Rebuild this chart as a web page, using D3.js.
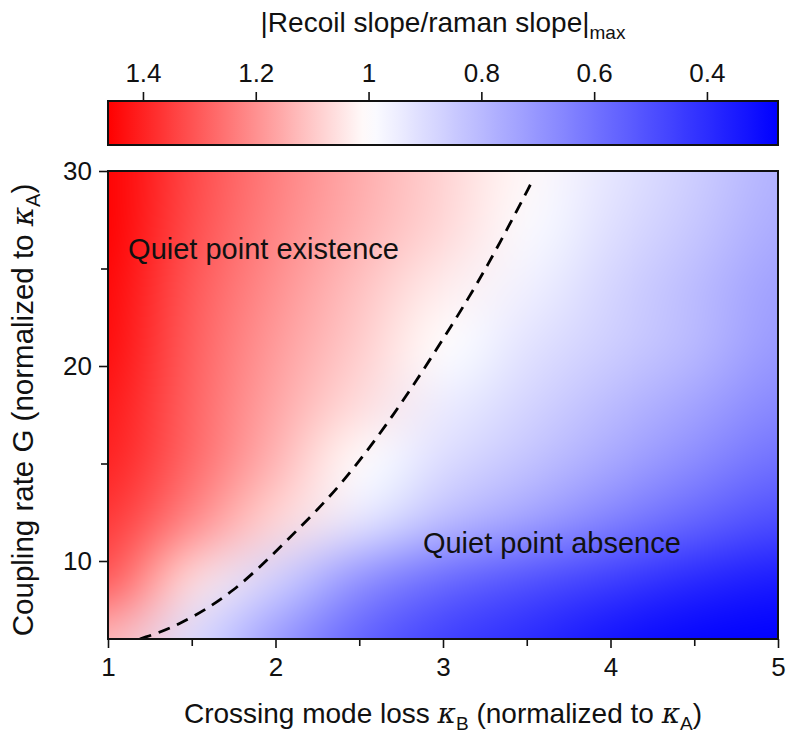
<!DOCTYPE html>
<html><head><meta charset="utf-8">
<script src="https://cdn.jsdelivr.net/npm/d3@7/dist/d3.min.js"></script>
<style>
body{margin:0;background:#fff}
svg{display:block}
text{font-family:"Liberation Sans",Arial,Helvetica,sans-serif;fill:#111}
</style>
</head><body>
<svg id="chart" width="788" height="740"></svg>
<script>
// ---- data ----
const kappaB = [1, 1.5, 2, 2.5, 3, 3.5, 4, 4.5, 5];
const couplingG = [6, 9, 12, 15, 18, 21, 24, 27, 30];
// |Recoil slope / raman slope|max, one row per coupling G (bottom to top)
const ratioG6  = [1.13, 0.90, 0.72, 0.56, 0.46, 0.40, 0.33, 0.29, 0.27];
const ratioG9  = [1.30, 1.06, 0.87, 0.69, 0.58, 0.51, 0.45, 0.39, 0.35];
const ratioG12 = [1.36, 1.21, 1.07, 0.93, 0.81, 0.73, 0.64, 0.56, 0.49];
const ratioG15 = [1.40, 1.27, 1.13, 1.00, 0.90, 0.83, 0.75, 0.67, 0.59];
const ratioG18 = [1.42, 1.28, 1.16, 1.06, 0.95, 0.88, 0.81, 0.74, 0.66];
const ratioG21 = [1.44, 1.29, 1.18, 1.09, 1.00, 0.92, 0.86, 0.80, 0.71];
const ratioG24 = [1.45, 1.30, 1.20, 1.11, 1.03, 0.96, 0.88, 0.81, 0.73];
const ratioG27 = [1.46, 1.32, 1.22, 1.14, 1.07, 0.99, 0.91, 0.84, 0.76];
const ratioG30 = [1.46, 1.33, 1.23, 1.15, 1.08, 1.01, 0.93, 0.86, 0.78];
const ratioRows = [ratioG6, ratioG9, ratioG12, ratioG15, ratioG18, ratioG21, ratioG24, ratioG27, ratioG30];
// dashed boundary (ratio = 1)
const boundaryKappa = [1.19, 1.41, 1.75, 2.07, 2.39, 2.72, 2.91, 3.16, 3.34, 3.54];
const boundaryG     = [6.0, 6.63, 8.34, 11.08, 13.8, 17.66, 20.15, 23.55, 26.3, 29.6];
const xTickValues = [1, 2, 3, 4, 5];
const xMinorTicks = [1.5, 2.5, 3.5, 4.5];
const yTickValues = [10, 20, 30];
const yMinorTicks = [15, 25];
const colorbarTicks = [1.4, 1.2, 1, 0.8, 0.6, 0.4];
const colorDomain = [1.462, 1, 0.274];
const colorRange = ["#ff0000", "#ffffff", "#0000ff"];

// ---- layout ----
const svg = d3.select("#chart");
const L = 108, R = 778, T = 171, B = 639;
const FONT = '"Liberation Sans", Arial, sans-serif';
const x = d3.scaleLinear().domain([1, 5]).range([L, R]);
const y = d3.scaleLinear().domain([6, 30]).range([B, T]);
const color = d3.scaleLinear().domain(colorDomain).range(colorRange).clamp(true);
const cb = d3.scaleLinear().domain([colorDomain[0], colorDomain[2]]).range([L, R]);
const cbTop = 101, cbBot = 145;

// ---- heatmap: one pixel per grid cell, upscaled smoothly for display ----
const nx = kappaB.length, ny = couplingG.length;
const cvs = document.createElement("canvas");
cvs.width = nx; cvs.height = ny;
const ctx = cvs.getContext("2d");
const img = ctx.createImageData(nx, ny);
ratioRows.forEach((row, j) => {
  row.forEach((v, i) => {
    const c = d3.rgb(color(v));
    const k = ((ny - 1 - j) * nx + i) * 4;
    img.data[k] = c.r; img.data[k+1] = c.g; img.data[k+2] = c.b; img.data[k+3] = 255;
  });
});
ctx.putImageData(img, 0, 0);
const dx = (kappaB[1] - kappaB[0]) / 2, dy = (couplingG[1] - couplingG[0]) / 2;
const ix0 = x(kappaB[0] - dx), ix1 = x(kappaB[nx - 1] + dx);
const iy0 = y(couplingG[ny - 1] + dy), iy1 = y(couplingG[0] - dy);
const W = Math.round(ix1 - ix0), H = Math.round(iy1 - iy0);
const big = document.createElement("canvas");
big.width = W; big.height = H;
const bctx = big.getContext("2d");
bctx.imageSmoothingEnabled = true;
bctx.imageSmoothingQuality = "high";
bctx.filter = "blur(9px)";
bctx.drawImage(cvs, 0, 0, W, H);

const defs = svg.append("defs");
defs.append("clipPath").attr("id", "plotclip").append("rect")
  .attr("x", L).attr("y", T).attr("width", R - L).attr("height", B - T);

svg.append("g").attr("clip-path", "url(#plotclip)")
  .append("image")
  .attr("href", big.toDataURL())
  .attr("preserveAspectRatio", "none")
  .attr("x", ix0).attr("y", iy0)
  .attr("width", ix1 - ix0).attr("height", iy1 - iy0);

// dashed boundary
const pts = boundaryKappa.map((k, i) => [k, boundaryG[i]]);
svg.append("path")
  .attr("clip-path", "url(#plotclip)")
  .attr("d", d3.line().x(d => x(d[0])).y(d => y(d[1])).curve(d3.curveBasis)(pts))
  .attr("fill", "none").attr("stroke", "#000").attr("stroke-width", 2.8)
  .attr("stroke-dasharray", "12,8");

// frame
svg.append("rect").attr("x", L).attr("y", T).attr("width", R - L).attr("height", B - T)
  .attr("fill", "none").attr("stroke", "#111").attr("stroke-width", 2);

// axes
svg.append("g").attr("transform", `translate(0,${B})`)
  .call(d3.axisBottom(x).tickValues(xTickValues).tickFormat(d3.format("d")).tickSize(9).tickPadding(10));
svg.append("g").attr("transform", `translate(0,${B})`)
  .call(d3.axisBottom(x).tickValues(xMinorTicks).tickFormat("").tickSize(7));
svg.append("g").attr("transform", `translate(${L},0)`)
  .call(d3.axisLeft(y).tickValues(yTickValues).tickFormat(d3.format("d")).tickSize(9).tickPadding(7));
svg.append("g").attr("transform", `translate(${L},0)`)
  .call(d3.axisLeft(y).tickValues(yMinorTicks).tickFormat("").tickSize(7));
svg.selectAll(".domain").remove();
svg.selectAll(".tick line").attr("stroke", "#111").attr("stroke-width", 1.6);
svg.selectAll(".tick text").attr("font-size", 26).attr("fill", "#111").style("font-family", FONT);

// colorbar
const grad = defs.append("linearGradient").attr("id", "cbgrad")
  .attr("gradientUnits", "userSpaceOnUse").attr("x1", L).attr("x2", R).attr("y1", 0).attr("y2", 0);
d3.range(0, 1.0001, 0.02).forEach(t => {
  const v = colorDomain[0] + t * (colorDomain[2] - colorDomain[0]);
  grad.append("stop").attr("offset", t).attr("stop-color", color(v));
});
svg.append("rect").attr("x", L).attr("y", cbTop).attr("width", R - L).attr("height", cbBot - cbTop)
  .attr("fill", "url(#cbgrad)").attr("stroke", "#111").attr("stroke-width", 2);
svg.append("g").attr("transform", `translate(0,${cbTop})`)
  .call(d3.axisTop(cb).tickValues(colorbarTicks).tickFormat(d => d === 1 ? "1" : d3.format(".1f")(d)).tickSize(9).tickPadding(10))
  .call(g => g.select(".domain").remove())
  .call(g => g.selectAll(".tick line").attr("stroke", "#111").attr("stroke-width", 1.6))
  .call(g => g.selectAll(".tick text").attr("font-size", 26).attr("fill", "#111").style("font-family", FONT));

// colorbar title
const title = svg.append("text").attr("x", 443).attr("y", 32).attr("text-anchor", "middle").attr("font-size", 28);
title.append("tspan").text("|Recoil slope/raman slope|");
title.append("tspan").attr("font-size", 19).attr("dy", 7).text("max");

// x title
const xt = svg.append("text").attr("x", 443).attr("y", 723).attr("text-anchor", "middle").attr("font-size", 28);
xt.append("tspan").text("Crossing mode loss ");
xt.append("tspan").attr("font-style", "italic").attr("font-family", "DejaVu Serif, serif").text("κ");
xt.append("tspan").attr("font-size", 19).attr("dy", 7).text("B");
xt.append("tspan").attr("dy", -7).text(" (normalized to ");
xt.append("tspan").attr("font-style", "italic").attr("font-family", "DejaVu Serif, serif").text("κ");
xt.append("tspan").attr("font-size", 19).attr("dy", 7).text("A");
xt.append("tspan").attr("dy", -7).text(")");

// y title
const yt = svg.append("text").attr("transform", `translate(33,410) rotate(-90)`)
  .attr("text-anchor", "middle").attr("font-size", 29.5);
yt.append("tspan").text("Coupling rate G (normalized to ");
yt.append("tspan").attr("font-style", "italic").attr("font-family", "DejaVu Serif, serif").text("κ");
yt.append("tspan").attr("font-size", 20).attr("dy", 7).text("A");
yt.append("tspan").attr("dy", -7).text(")");

// annotations
svg.append("text").attr("x", x(1.12)).attr("y", y(25.5)).attr("font-size", 29).text("Quiet point existence");
svg.append("text").attr("x", x(2.88)).attr("y", y(10.4)).attr("font-size", 29).text("Quiet point absence");
</script>
</body></html>
